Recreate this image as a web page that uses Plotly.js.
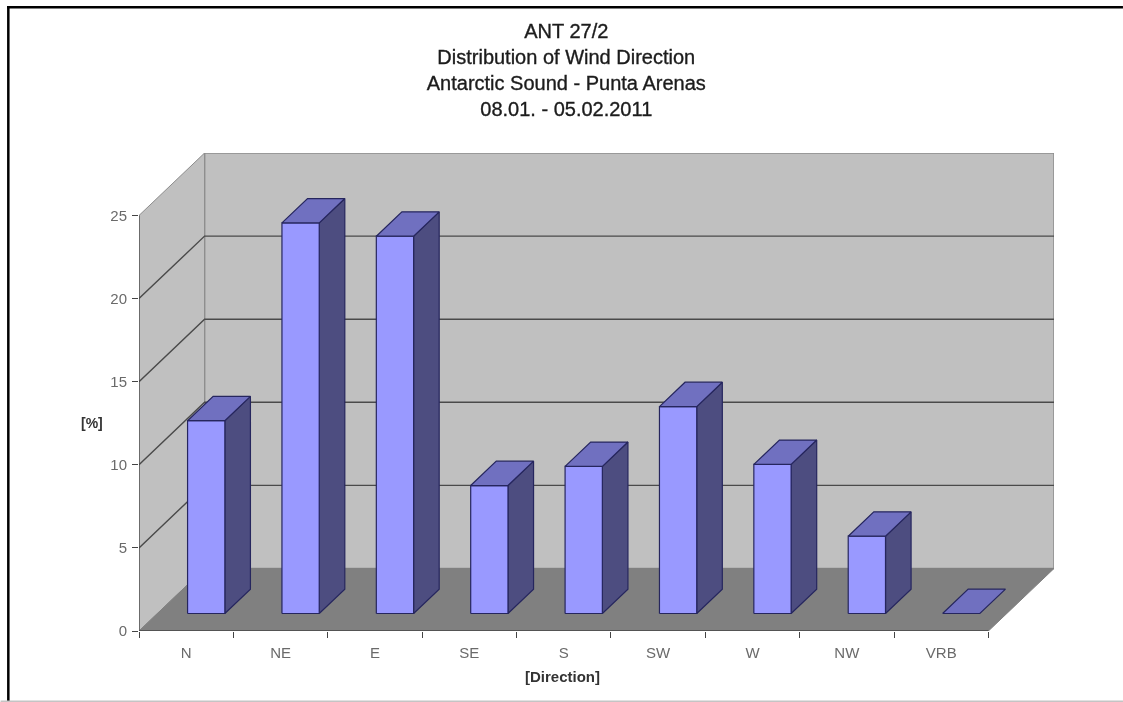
<!DOCTYPE html>
<html><head><meta charset="utf-8">
<script src="https://cdn.plot.ly/plotly-3.0.1.min.js"></script>
<style>html,body{margin:0;padding:0;background:#fff;overflow:hidden}#chart{width:1123px;height:702px;filter:blur(0.6px)}
.gtitle{stroke:#1c1c1c;stroke-width:0.35px}</style>
</head><body><div id="chart"></div>
<script>
const categories = ['N','NE','E','SE','S','SW','W','NW','VRB'];
const values = [11.6,23.5,22.7,7.7,8.85,12.45,8.97,4.65,0];
const valueTicks = [0,5,10,15,20,25];
const titleLines = ['ANT 27/2','Distribution of Wind Direction','Antarctic Sound - Punta Arenas','08.01. - 05.02.2011'];

// oblique projection of the chart's 3-D box onto the 2-D axes
const depthX = 0.695, depthY = 3.76;
const barStart = 0.32, barEnd = 0.715, barFront = 0.28, barBack = 0.67;
const n = categories.length, maxV = 25;
const P = (x, v, d) => [x + d * depthX, v + d * depthY];

const W = 1123, H = 702, L = 138.5, R = 69, T = 153, B = 71;
const xMax = n + depthX, yMax = maxV + depthY;

const traces = [];
function poly(pts, fill, line, lw) {
  traces.push({type:'scatter', mode:'lines', x:pts.map(p=>p[0]).concat([pts[0][0]]), y:pts.map(p=>p[1]).concat([pts[0][1]]),
    fill:'toself', fillcolor:fill, line:{color:line, width:lw}, hoverinfo:'skip', showlegend:false, cliponaxis:false});
}
function seg(pts, color, w) {
  traces.push({type:'scatter', mode:'lines', x:pts.map(p=>p[0]), y:pts.map(p=>p[1]),
    line:{color:color, width:w}, hoverinfo:'skip', showlegend:false, cliponaxis:false});
}
const wall='#c0c0c0', floorC='#808080', edge='#8c8c8c', grid='#4a4a4a';
poly([P(0,0,1),P(n,0,1),P(n,maxV,1),P(0,maxV,1)], wall, edge, 1.5);
poly([P(0,0,0),P(0,0,1),P(0,maxV,1),P(0,maxV,0)], wall, edge, 1);
poly([P(0,0,0),P(n,0,0),P(n,0,1),P(0,0,1)], floorC, floorC, 1);
valueTicks.filter(v=>v>0&&v<maxV).forEach(v=>{
  seg([P(0,v,0),P(0,v,1),P(n,v,1)], grid, 1.4);
});
values.forEach((v,i)=>{
  const x0=i+barStart, x1=i+barEnd;
  const front='#9999ff', side='#4d4d80', cap='#7070c0', ol='#26265e';
  if (v>0) {
    poly([P(x1,0,barFront),P(x1,0,barBack),P(x1,v,barBack),P(x1,v,barFront)], side, ol, 1.2);
    poly([P(x0,0,barFront),P(x1,0,barFront),P(x1,v,barFront),P(x0,v,barFront)], front, ol, 1.2);
  }
  poly([P(x0,v,barFront),P(x1,v,barFront),P(x1,v,barBack),P(x0,v,barBack)], cap, ol, 1.2);
});
seg([P(0,0,0),P(n,0,0)], '#444444', 1.4);
seg([P(0,0,0),P(0,maxV,0)], '#444444', 1.2);
// second x axis carries the category boundary ticks
traces.push({type:'scatter', x:[0,n], y:[0,0], xaxis:'x2', mode:'none', hoverinfo:'skip', showlegend:false});

const px = x => (x - L) / (W - L - R);
const py = y => (H - B - y) / (H - T - B);
const fontFamily = '"Liberation Sans",Arial,sans-serif';
const tickFont = {family:fontFamily, size:15, color:'#6a6a6a'};
const titleText = titleLines.join('<br>');
const frameRect = (x0,y0,x1,y1,c) => ({type:'rect', xref:'paper', yref:'paper', x0:px(x0), x1:px(x1), y0:py(y0), y1:py(y1), fillcolor:c, line:{width:0}, layer:'above'});

const layout = {
  width:W, height:H, paper_bgcolor:'#ffffff', plot_bgcolor:'#ffffff',
  margin:{l:L, r:R, t:T, b:B, pad:0}, showlegend:false,
  title:{text:titleText, font:{family:fontFamily, size:20, color:'#1c1c1c'},
    x:px(566), xref:'paper', xanchor:'center', y:1-38/H, yanchor:'top', yref:'container'},
  xaxis:{range:[0,xMax], tickmode:'array', tickvals:categories.map((c,i)=>i+0.5), ticktext:categories,
    ticks:'', showgrid:false, zeroline:false, showline:false, tickfont:tickFont, ticklabelstandoff:11},
  xaxis2:{range:[0,xMax], overlaying:'x', anchor:'y', side:'bottom', tickmode:'array', tickvals:categories.map((c,i)=>i).concat([n]),
    ticktext:categories.map(()=>'').concat(['']), ticks:'outside', ticklen:6, tickcolor:'#444444', tickwidth:1, showgrid:false, zeroline:false, showline:false},
  yaxis:{range:[0,yMax], tickmode:'array', tickvals:valueTicks, ticks:'outside', ticklen:6, tickcolor:'#444444', tickwidth:1,
    showgrid:false, zeroline:false, showline:false, tickfont:tickFont, ticklabelstandoff:2},
  annotations:[
    {text:'<b>[%]</b>', xref:'paper', yref:'paper', x:px(91.5), y:py(423), xanchor:'center', yanchor:'middle', showarrow:false,
      font:{family:fontFamily, size:14, color:'#333333'}},
    {text:'<b>[Direction]</b>', xref:'paper', yref:'paper', x:px(562), y:py(676), xanchor:'center', yanchor:'middle', showarrow:false,
      font:{family:fontFamily, size:15, color:'#333333'}}],
  shapes:[frameRect(6.5,6,1123,8.5,'#000000'), frameRect(6.5,6,9,701,'#000000'), frameRect(0,700.5,1123,702,'#c4c4c4')]
};
Plotly.newPlot('chart', traces, layout, {displayModeBar:false, staticPlot:true});
</script></body></html>
